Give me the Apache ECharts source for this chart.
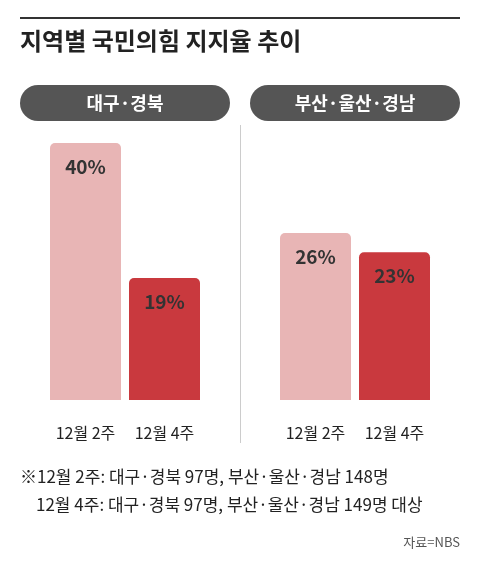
<!DOCTYPE html>
<html><head><meta charset="utf-8">
<script src="https://cdn.jsdelivr.net/npm/echarts@6/dist/echarts.min.js"></script>
<style>body{margin:0;background:#fff}#c{width:480px;height:570px}</style>
</head><body><div id="c"></div>
<script>
var weeks = ['12월 2주', '12월 4주'];
var daeguValues = [40, 19];
var busanValues = [26, 23];
var regionNames = ['대구·경북', '부산·울산·경남'];
var barColors = ['#e8b5b5', '#c9393e'];

var font = '"Noto Sans CJK KR", sans-serif';
var chart = echarts.init(document.getElementById('c'));

function makeData(vals) {
    return vals.map(function (v, i) {
        return {value: v, itemStyle: {color: barColors[i]}};
    });
}
function grid(left) {
    return {left: left, width: 158, top: 143, height: 257};
}
function xAxis(idx) {
    return {
        type: 'category', gridIndex: idx, data: weeks,
        axisLine: {show: false}, axisTick: {show: false},
        axisLabel: {interval: 0, hideOverlap: false, fontFamily: font, fontSize: 16, color: '#222', margin: 25}
    };
}
function yAxis(idx) {
    return {type: 'value', gridIndex: idx, min: 0, max: 40, show: false};
}
function series(idx, vals) {
    return {
        type: 'bar', xAxisIndex: idx, yAxisIndex: idx, barWidth: 71,
        data: makeData(vals),
        itemStyle: {borderRadius: [5, 5, 0, 0]},
        label: {show: true, position: 'insideTop', distance: 14, formatter: '{c}%',
            fontFamily: font, fontSize: 19, fontWeight: 'bold', color: '#333'}
    };
}

var option = {
    animation: false,
    grid: [grid(46), grid(276)],
    xAxis: [xAxis(0), xAxis(1)],
    yAxis: [yAxis(0), yAxis(1)],
    series: [series(0, daeguValues), series(1, busanValues)],
    graphic: [
        {type: 'rect', shape: {x: 20, y: 17, width: 440, height: 2}, style: {fill: '#333'}},
        {type: 'text', left: 20, top: 29, style: {text: '지역별 국민의힘 지지율 추이', font: 'bold 24px ' + font, fill: '#222'}},
        {type: 'rect', shape: {x: 20, y: 85, width: 210, height: 36, r: 18}, style: {fill: '#555'}},
        {type: 'rect', shape: {x: 250, y: 85, width: 210, height: 36, r: 18}, style: {fill: '#555'}},
        {type: 'text', x: 125, y: 103, style: {text: regionNames[0], font: 'bold 18px ' + font, fill: '#fff', align: 'center', verticalAlign: 'middle'}},
        {type: 'text', x: 355, y: 103, style: {text: regionNames[1], font: 'bold 18px ' + font, fill: '#fff', align: 'center', verticalAlign: 'middle'}},
        {type: 'rect', shape: {x: 240, y: 125, width: 1, height: 318}, style: {fill: '#ccc'}},
        {type: 'text', left: 20, top: 468, style: {text: '※12월 2주: 대구·경북 97명, 부산·울산·경남 148명', font: '17px ' + font, fill: '#222'}},
        {type: 'text', left: 36, top: 496, style: {text: '12월 4주: 대구·경북 97명, 부산·울산·경남 149명 대상', font: '17px ' + font, fill: '#222'}},
        {type: 'text', right: 20, top: 536, style: {text: '자료=NBS', font: '13px ' + font, fill: '#555'}}
    ]
};
chart.setOption(option);
</script></body></html>
